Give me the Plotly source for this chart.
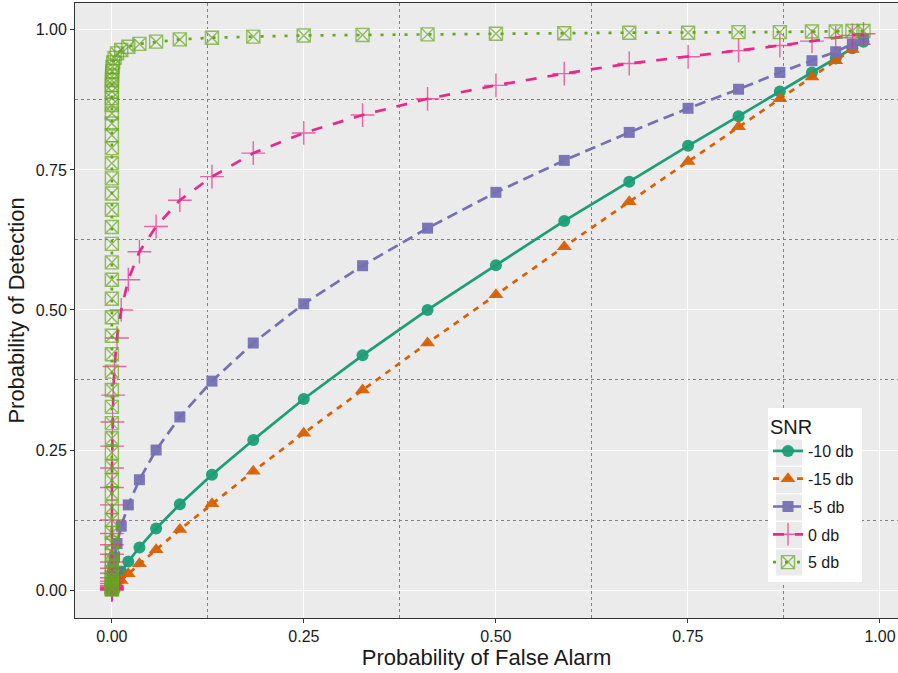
import plotly.graph_objects as go

# Probability of false alarm for each detector threshold (shared by all SNR curves)
pf = [0.9786, 0.9641, 0.9424, 0.9115, 0.8697, 0.8159, 0.7502, 0.6736, 0.5890, 0.5000,
      0.4110, 0.3264, 0.2498, 0.1841, 0.1303, 0.0885, 0.0576, 0.0359, 0.0214, 0.0122,
      0.0067, 0.0035, 0.0017, 0.0008, 0.0004, 0.0002, 0.0001, 0.00005, 0.00002, 0.00001,
      0.0, 0.0, 0.0, 0.0, 0.0, 0.0, 0.0, 0.0, 0.0, 0.0,
      0.0, 0.0, 0.0, 0.0, 0.0, 0.0, 0.0, 0.0, 0.0, 0.0,
      0.0, 0.0, 0.0, 0.0, 0.0, 0.0, 0.0, 0.0, 0.0, 0.0,
      0.0, 0.0, 0.0, 0.0, 0.0, 0.0, 0.0, 0.0, 0.0, 0.0,
      0.0, 0.0]

# Probability of detection per SNR level
pd_m10 = [0.979, 0.967, 0.949, 0.924, 0.890, 0.846, 0.793, 0.729, 0.659, 0.580,
          0.500, 0.419, 0.341, 0.268, 0.206, 0.153, 0.110, 0.076, 0.051, 0.033,
          0.020, 0.012, 0.007, 0.004, 0.002, 0.001, 0.0005, 0.0003, 0.0001, 0.0]

pd_m15 = [0.979, 0.965, 0.945, 0.916, 0.877, 0.827, 0.765, 0.693, 0.613, 0.527,
          0.441, 0.357, 0.280, 0.212, 0.154, 0.108, 0.072, 0.047, 0.029, 0.017,
          0.010, 0.0054, 0.0028, 0.0014, 0.0007, 0.0003, 0.0001, 0.0]

pd_m5 = [0.983, 0.975, 0.961, 0.945, 0.924, 0.894, 0.860, 0.817, 0.767, 0.710,
         0.646, 0.579, 0.511, 0.441, 0.373, 0.309, 0.250, 0.197, 0.152, 0.114,
         0.083, 0.059, 0.041, 0.027, 0.018, 0.011, 0.007, 0.004, 0.0025, 0.0015,
         0.0009, 0.0005, 0.0003, 0.0002, 0.0001, 0.0]

pd_0 = [0.993, 0.990, 0.986, 0.980, 0.972, 0.963, 0.952, 0.940, 0.922, 0.901,
        0.877, 0.848, 0.816, 0.780, 0.738, 0.696, 0.649, 0.604, 0.554, 0.500,
        0.450, 0.399, 0.348, 0.300, 0.257, 0.218, 0.183, 0.152, 0.125, 0.101,
        0.081, 0.064, 0.050, 0.039, 0.030, 0.022, 0.016, 0.012, 0.008, 0.006,
        0.004, 0.003, 0.002, 0.001, 0.001, 0.0]

pd_5 = [0.998, 0.998, 0.997, 0.997, 0.996, 0.996, 0.995, 0.995, 0.994, 0.993,
        0.992, 0.991, 0.990, 0.988, 0.986, 0.983, 0.979, 0.975, 0.970, 0.964,
        0.958, 0.950, 0.942, 0.934, 0.926, 0.917, 0.910, 0.902, 0.890, 0.878,
        0.866, 0.851, 0.833, 0.812, 0.789, 0.762, 0.735, 0.708, 0.679, 0.648,
        0.618, 0.585, 0.554, 0.520, 0.487, 0.454, 0.421, 0.390, 0.357, 0.327,
        0.298, 0.271, 0.245, 0.220, 0.196, 0.173, 0.148, 0.125, 0.102, 0.084,
        0.067, 0.053, 0.041, 0.031, 0.023, 0.017, 0.012, 0.008, 0.005, 0.003,
        0.002, 0.001]

snr_labels = ["-10 db", "-15 db", "-5 db", "0 db", "5 db"]
snr_values = [pd_m10, pd_m15, pd_m5, pd_0, pd_5]

tick_vals = [0.0, 0.25, 0.5, 0.75, 1.0]
tick_text = ["0.00", "0.25", "0.50", "0.75", "1.00"]
minor_vals = [0.125, 0.375, 0.625, 0.875]

colors = ["#1B9E77", "#D95F02", "#7570B3", "#E7298A", "#66A61E"]
dashes = ["solid", "6px,6px", "11px,6px", "11px,11px", "3px,9px"]
symbols = ["circle", "triangle-up", "square", "cross-thin-open", "square-x-open"]
sizes = [12, 13, 11, 17, 13]
opac = [0.95, 0.95, 0.95, 0.7, 0.7]

# plot area geometry (pixels) used to place the legend panel
W, H = 898, 673
ML, MR, MT, MB = 75, 0, 3, 55
PW, PH = W - ML - MR, H - MT - MB


def px_x(v):
    return (v - ML) / PW


def px_y(v):
    return (H - MB - v) / PH


fig = go.Figure()
for name, vals, col, dash, sym, sz, op in zip(snr_labels, snr_values, colors,
                                               dashes, symbols, sizes, opac):
    marker = dict(symbol=sym, size=sz, color=col, opacity=op)
    if sym.endswith("open"):
        marker["line"] = dict(color=col, width=1.4)
    else:
        marker["line"] = dict(width=0)
    fig.add_trace(go.Scatter(
        x=pf[:len(vals)], y=vals, name=name, legendgroup=name,
        mode="lines+markers",
        line=dict(color=col, width=2.7, dash=dash),
        marker=marker,
    ))

axis_common = dict(
    tickvals=tick_vals, ticktext=tick_text,
    showgrid=True, gridcolor="white", gridwidth=1.2,
    zeroline=False,
    showline=True, mirror=True, linecolor="#333333", linewidth=1,
    ticks="outside", ticklen=4, tickcolor="#333333", tickwidth=1,
    tickfont=dict(size=16, color="#1a1a1a"),
    minor=dict(tickvals=minor_vals, showgrid=True, gridcolor="#7f7f7f",
               gridwidth=1, griddash="dot", ticks=""),
)

# legend panel: white box plus grey key backgrounds
shapes = [dict(type="rect", xref="paper", yref="paper", layer="above",
               x0=px_x(768), x1=px_x(862), y0=px_y(582), y1=px_y(408),
               fillcolor="white", line=dict(width=0))]
for c in [452.5, 480, 507.5, 535, 562.5]:
    shapes.append(dict(type="rect", xref="paper", yref="paper", layer="above",
                       x0=px_x(776), x1=px_x(802), y0=px_y(c + 13), y1=px_y(c - 13),
                       fillcolor="#EBEBEB", line=dict(width=0)))

fig.update_layout(
    width=W, height=H,
    margin=dict(l=ML, r=MR, t=MT, b=MB),
    paper_bgcolor="white", plot_bgcolor="#EBEBEB",
    font=dict(family="Arial, Liberation Sans, sans-serif", color="#1a1a1a"),
    xaxis=dict(axis_common, range=[-0.048, 1.0235],
               title=dict(text="Probability of False Alarm", font=dict(size=22), standoff=5)),
    yaxis=dict(axis_common, range=[-0.0499, 1.048],
               title=dict(text="Probability of Detection", font=dict(size=22), standoff=4)),
    shapes=shapes,
    legend=dict(
        title=dict(text="SNR", font=dict(size=20)),
        font=dict(size=16),
        bgcolor="rgba(0,0,0,0)", borderwidth=0,
        x=px_x(768), y=px_y(408), xanchor="left", yanchor="top",
        traceorder="grouped", tracegroupgap=4,
    ),
)

fig.write_html("out.html")
